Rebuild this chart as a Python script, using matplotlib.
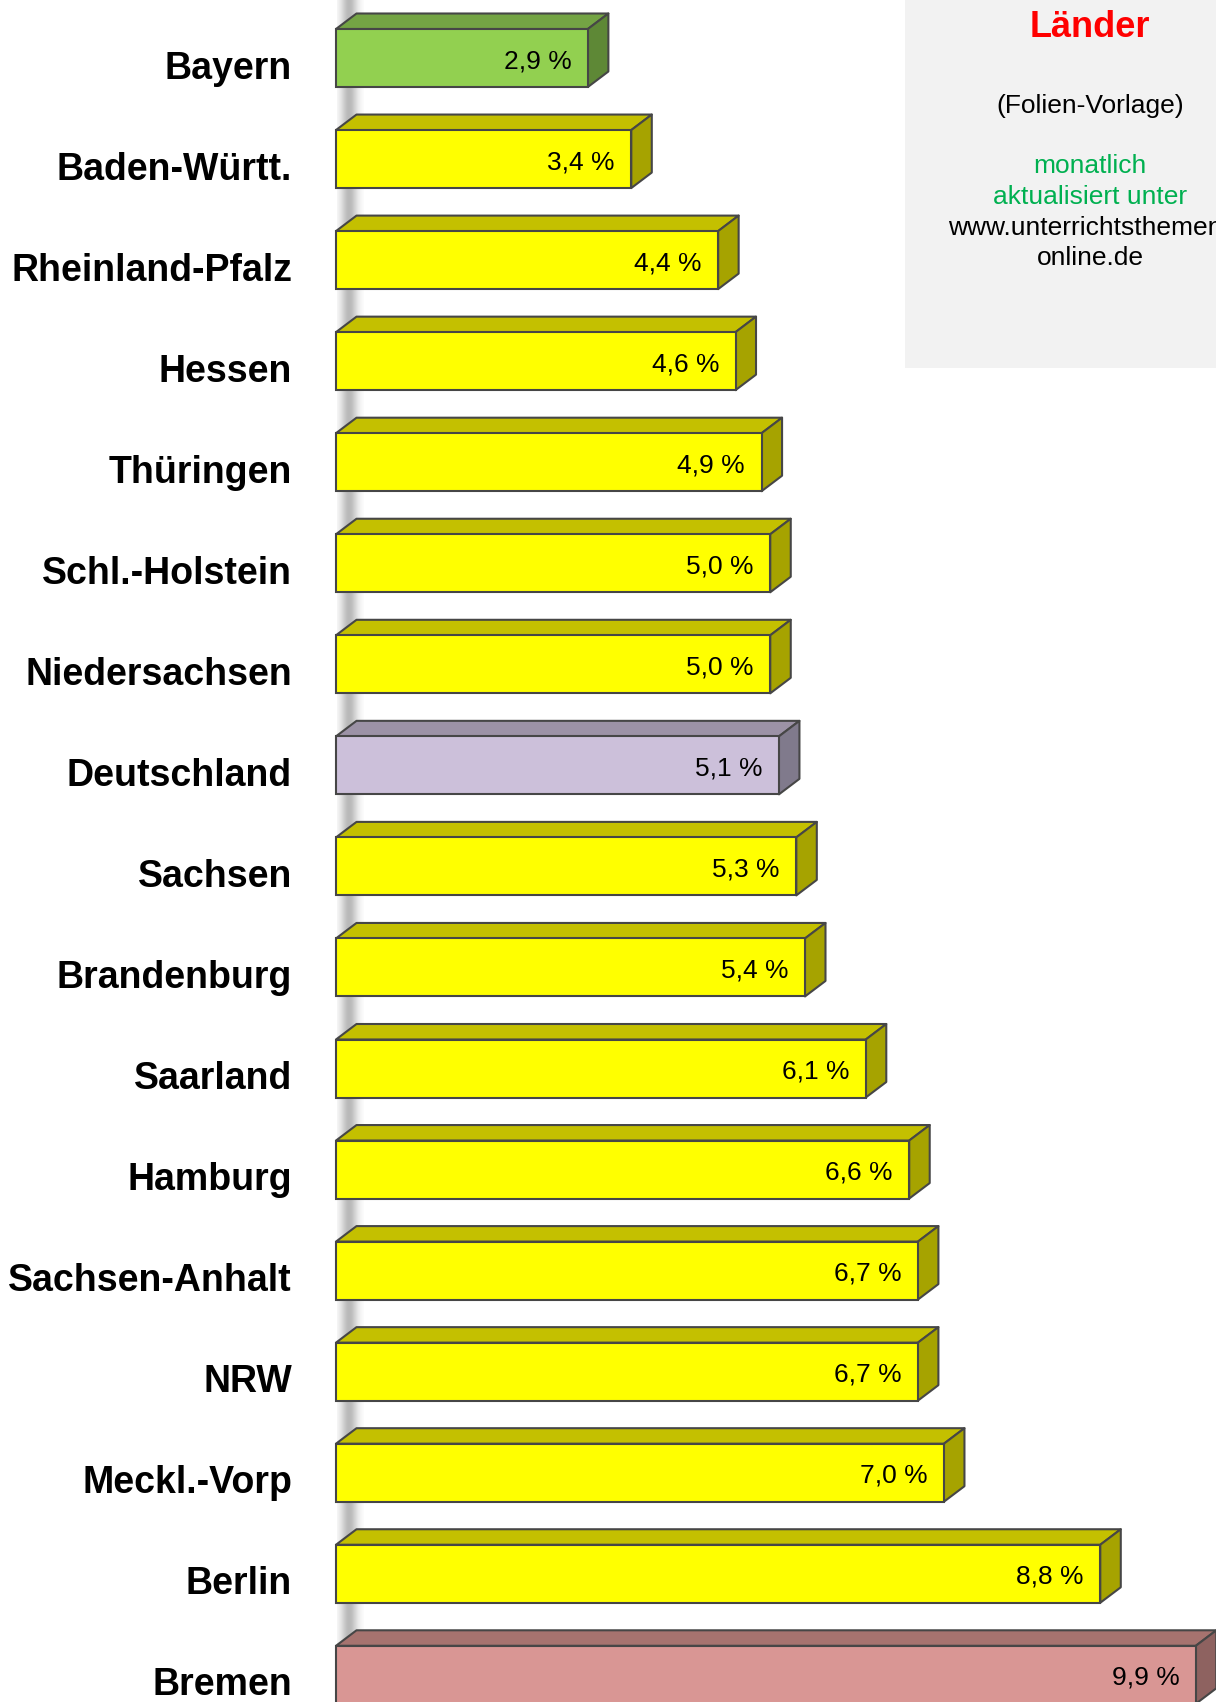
import numpy as np
import matplotlib
matplotlib.use("Agg")
import matplotlib.pyplot as plt
from matplotlib.patches import Polygon, Rectangle

plt.rcParams['font.family'] = ['Liberation Sans', 'DejaVu Sans']

# data
laender = ['Bayern', 'Baden-Württ.', 'Rheinland-Pfalz', 'Hessen', 'Thüringen',
           'Schl.-Holstein', 'Niedersachsen', 'Deutschland', 'Sachsen',
           'Brandenburg', 'Saarland', 'Hamburg', 'Sachsen-Anhalt', 'NRW',
           'Meckl.-Vorp', 'Berlin', 'Bremen']
quoten = [2.9, 3.4, 4.4, 4.6, 4.9, 5.0, 5.0, 5.1, 5.3, 5.4, 6.1, 6.6, 6.7, 6.7, 7.0, 8.8, 9.9]
gruppe = ['best', 'normal', 'normal', 'normal', 'normal', 'normal', 'normal', 'bund',
          'normal', 'normal', 'normal', 'normal', 'normal', 'normal', 'normal', 'normal', 'worst']
box_zeilen = ['(Folien-Vorlage)', '', 'monatlich', 'aktualisiert unter',
              'www.unterrichtsthemen-', 'online.de']
box_farben = ['black', None, '#00b050', '#00b050', 'black', 'black']

# front, top, side colours per group
farben = {
    'normal': ('#ffff00', '#c4c000', '#a6a300'),
    'best': ('#92d050', '#74a444', '#5e8836'),
    'bund': ('#ccc0da', '#9c92a6', '#807a8c'),
    'worst': ('#d99694', '#a6736f', '#8e6260'),
}

W, H = 1216, 1702
px_x = 86.85      # pixels per percent
px_y = 101.05     # pixels per bar slot
x0_px, y0_px = 336, 58

fig = plt.figure(figsize=(W / 100, H / 100), dpi=100)
ax = fig.add_axes([0, 0, 1, 1])
ax.set_xlim(-x0_px / px_x, (W - x0_px) / px_x)
ax.set_ylim((H - y0_px) / px_y, -y0_px / px_y)
ax.axis('off')

# grey wall shadow behind the bars
xs = np.linspace(0, 1, 60)
alpha = np.exp(-((xs - 0.45) / 0.32) ** 2) * 0.5
img = np.zeros((1, 60, 4))
img[..., :3] = 0.45
img[0, :, 3] = alpha
ax.imshow(img, extent=(1 / px_x, 28 / px_x, (H - y0_px) / px_y, -y0_px / px_y),
          aspect='auto', zorder=0, interpolation='bilinear')

h = 58 / px_y
dx = 20.5 / px_x
dy = 15.5 / px_y
edge = '#464646'
y = np.arange(len(laender))

front = [farben[g][0] for g in gruppe]
ax.barh(y, quoten, height=h, color=front, edgecolor=edge, linewidth=1.5, zorder=3)

for i, (v, g) in enumerate(zip(quoten, gruppe)):
    _, top_c, side_c = farben[g]
    top = y[i] - h / 2
    bot = y[i] + h / 2
    ax.add_patch(Polygon([(0, top), (v, top), (v + dx, top - dy), (dx, top - dy)],
                         closed=True, facecolor=top_c, edgecolor=edge, lw=1.5,
                         joinstyle='round', zorder=2))
    ax.add_patch(Polygon([(v, top), (v + dx, top - dy), (v + dx, bot - dy), (v, bot)],
                         closed=True, facecolor=side_c, edgecolor=edge, lw=1.5,
                         joinstyle='round', zorder=2))
    ax.text(v - 16.5 / px_x, y[i] + 10 / px_y, f"{v:.1f}".replace('.', ',') + " %",
            ha='right', va='baseline', fontsize=19, zorder=4)
    ax.text(-44 / px_x, y[i] + 20.5 / px_y, laender[i], ha='right', va='baseline',
            fontsize=27, fontweight='bold', zorder=4)

# info box top right
fig.patches.append(Rectangle((905 / W, 1 - 368 / H), 1 - 905 / W, 368 / H,
                             transform=fig.transFigure, facecolor='#f2f2f2',
                             edgecolor='none', zorder=1))
cx = 1090 / W
fig.text(cx, 1 - 37 / H, 'Länder', ha='center', va='baseline', fontsize=26,
         fontweight='bold', color='#ff0000', zorder=5)
baselines = [113, 143, 173, 204, 235, 265]
for zeile, farbe, b in zip(box_zeilen, box_farben, baselines):
    if zeile:
        fig.text(cx, 1 - b / H, zeile, ha='center', va='baseline', fontsize=19,
                 color=farbe, zorder=5)

fig.savefig('out.png', dpi=100)
